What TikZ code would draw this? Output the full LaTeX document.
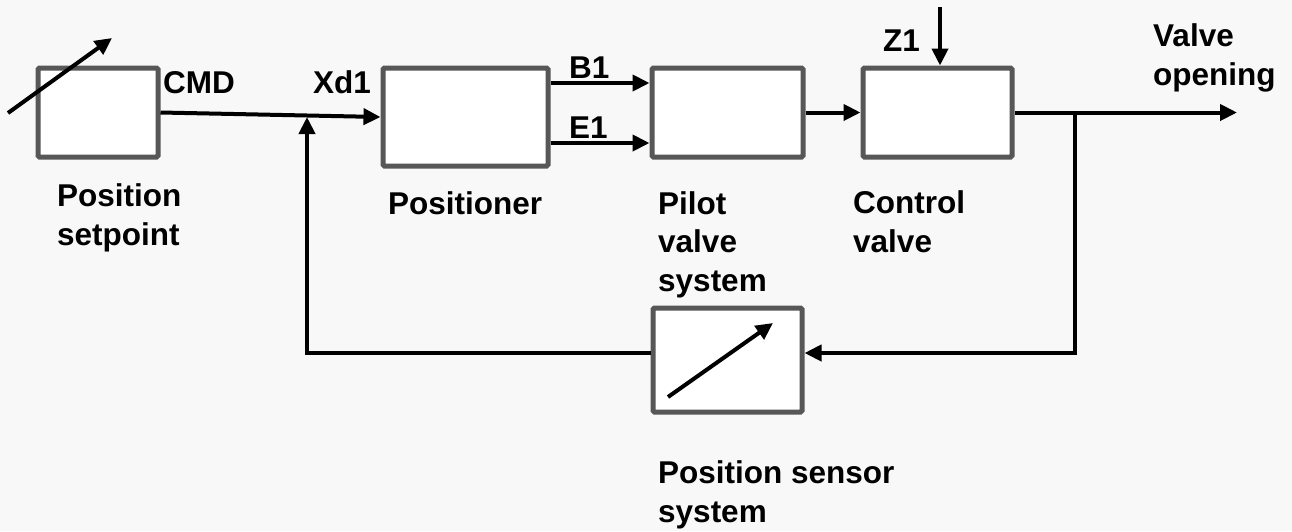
\documentclass[tikz,border=0pt]{standalone}
\usepackage{fontspec}
\setmainfont{Liberation Sans}
\usetikzlibrary{arrows.meta}
\definecolor{bgcol}{HTML}{F8F8F8}
\definecolor{boxgray}{HTML}{575757}
\begin{document}
\begin{tikzpicture}[x=1pt,y=-1pt,
  blk/.style={draw=boxgray, line width=5pt, fill=white, rounded corners=1.5pt, inner sep=0pt},
  wire/.style={line width=4pt, black},
  arr/.style={wire, -{Triangle[length=17pt,width=16pt]}},
  lbl/.style={font=\fontsize{31.5}{38.5}\selectfont\bfseries, inner sep=0pt, anchor=base west, align=left}
]
\fill[bgcol] (0,0) rectangle (1292,531);
\useasboundingbox (0,0) rectangle (1292,531);

% blocks
\node[blk, minimum width=120pt, minimum height=89pt] (set) at (98,112.5) {};
\node[blk, minimum width=165pt, minimum height=98pt] (pos) at (465.5,117) {};
\node[blk, minimum width=151pt, minimum height=89pt] (pil) at (727.5,112.5) {};
\node[blk, minimum width=149pt, minimum height=89pt] (ctl) at (937.5,112.5) {};
\node[blk, minimum width=149pt, minimum height=104pt] (sen) at (727.5,360) {};

% adjustable arrows
\coordinate (sa1) at (8,113);
\coordinate (sa2) at (112,38);
\draw[arr] (sa1) -- (sa2);
\coordinate (sb1) at (668,397);
\coordinate (sb2) at (773,323);
\draw[arr] (sb1) -- (sb2);

% coordinates
\coordinate (yb) at (0,83);
\coordinate (ye) at (0,143);
\coordinate (j1) at (307,117);
\coordinate (fl) at (307,353);
\coordinate (j2) at (1075,112.5);
\coordinate (fb) at (1075,353);
\coordinate (zin) at (940,7);
\coordinate (out) at (1237,112.5);

% connectors
\draw[arr] (set.east) -- (pos.west);
\draw[arr] (pos.east |- yb) -- (pil.west |- yb);
\draw[arr] (pos.east |- ye) -- (pil.west |- ye);
\draw[arr] (pil.east) -- (ctl.west);
\draw[arr] (zin) -- (zin |- ctl.north);
\draw[arr] (ctl.east) -- (out);
\draw[arr] (j2) -- (fb) -- (fb -| sen.east);
\draw[arr] (sen.west |- fl) -- (fl) -- (j1);

% labels (anchor = baseline of the last line)
\node[lbl] (lcmd) at (163,93) {CMD};
\node[lbl] (lxd) at (313,93) {Xd1};
\node[lbl] (lb1) at (569,78) {B1};
\node[lbl] (le1) at (569,138) {E1};
\node[lbl] (lz1) at (883,51) {Z1};
\node[lbl] (lvo) at (1153,85) {Valve\\opening};
\node[lbl] (lset) at (57,245) {Position\\setpoint};
\node[lbl] (lpos) at (388,214) {Positioner};
\node[lbl] (lpil) at (658,291) {Pilot\\valve\\system};
\node[lbl] (lctl) at (853,252) {Control\\valve};
\node[lbl] (lsen) at (658,522) {Position sensor\\system};
\end{tikzpicture}
\end{document}
